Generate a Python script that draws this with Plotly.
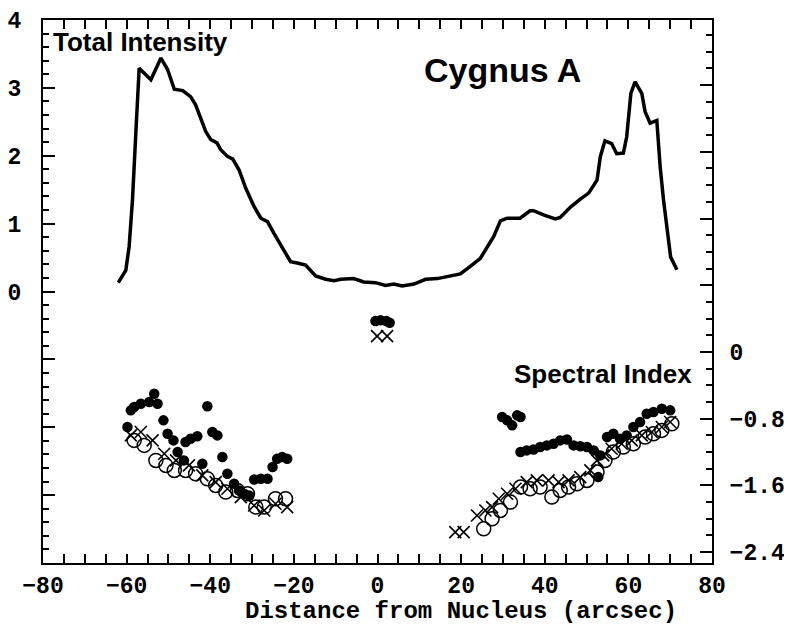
import plotly.graph_objects as go

# ---------------- data ----------------
inten_x = [-62.0, -60.2, -59.4, -58.6, -57.8, -57.0, -54.2, -51.8, -50.2, -48.6, -46.6, -44.7,
           -43.5, -42.3, -41.1, -39.9, -38.4, -37.5, -35.9, -34.6, -33.1, -31.5, -29.5, -27.9,
           -26.3, -24.8, -22.8, -20.8, -19.2, -17.2, -14.8, -12.4, -10.4, -8.8, -5.7, -3.3,
           -0.5, 1.9, 3.9, 5.9, 8.7, 11.5, 14.3, 17.0, 19.8, 22.2, 24.6, 27.8, 29.4, 31.0,
           34.1, 36.5, 37.3, 39.7, 42.5, 43.7, 46.1, 48.5, 50.5, 52.5, 53.3, 54.4, 56.0, 57.2,
           58.8, 59.6, 60.6, 61.6, 63.2, 64.0, 65.2, 66.8, 67.6, 68.4, 69.2, 70.1, 71.6]
inten_y = [0.13, 0.31, 0.66, 1.35, 2.33, 3.29, 3.12, 3.44, 3.27, 2.98, 2.96, 2.87,
           2.75, 2.55, 2.36, 2.24, 2.19, 2.09, 1.99, 1.95, 1.79, 1.52, 1.25, 1.08,
           1.03, 0.86, 0.64, 0.44, 0.42, 0.39, 0.23, 0.18, 0.16, 0.18, 0.19, 0.14,
           0.13, 0.09, 0.11, 0.08, 0.11, 0.18, 0.19, 0.23, 0.26, 0.37, 0.49, 0.81, 1.04, 1.08,
           1.08, 1.19, 1.19, 1.13, 1.07, 1.09, 1.24, 1.36, 1.45, 1.64, 1.99, 2.22, 2.18, 2.03,
           2.04, 2.28, 2.92, 3.09, 2.92, 2.65, 2.48, 2.52, 1.84, 1.35, 0.91, 0.51, 0.32]

filled_x = [-59.8, -59.0, -58.2, -56.6, -54.6, -53.4, -52.6, -51.2, -50.2, -48.8, -47.8, -46.3,
            -45.9, -44.7, -43.1, -41.9, -40.7, -39.5, -38.3, -37.1, -35.9, -34.3, -33.1, -31.9,
            -30.7, -29.5, -27.9, -26.3, -25.1, -24.0, -22.8, -21.6,
            -0.5, 0.7, 2.1, 2.9,
            29.8, 31.0, 32.2, 33.4, 34.2, 34.2, 35.7, 37.3, 38.9, 40.5, 42.1, 43.7, 45.3, 46.9,
            48.5, 50.1, 51.7, 52.8, 53.3, 54.9, 56.4, 58.0, 59.6, 61.2, 62.8, 64.4, 66.0, 68.0, 70.0]
filled_v = [-0.90, -0.70, -0.66, -0.62, -0.60, -0.50, -0.62, -0.82, -0.98, -1.06, -1.20, -1.30,
            -1.08, -1.04, -1.01, -1.34, -0.65, -0.96, -1.00, -1.26, -1.46, -1.58, -1.66, -1.70,
            -1.72, -1.53, -1.52, -1.52, -1.38, -1.28, -1.26, -1.28,
            0.37, 0.38, 0.37, 0.35,
            -0.78, -0.82, -0.88, -0.76, -0.78, -1.20, -1.18, -1.17, -1.14, -1.12, -1.10, -1.06, -1.05, -1.12,
            -1.13, -1.14, -1.18, -1.50, -1.24, -1.02, -0.98, -1.04, -1.00, -0.90, -0.84, -0.74, -0.72, -0.68, -0.70]

cross_x = [-59.0, -56.6, -53.8, -51.0, -48.2, -45.1, -41.9, -38.7, -35.9, -32.7, -29.5, -27.1,
           -24.4, -21.6,
           -0.1, 2.3,
           18.6, 20.6, 23.8, 25.8, 27.4, 29.0, 31.0, 33.0, 35.7, 38.1, 40.9, 43.3, 45.7, 48.5,
           50.9, 52.5, 54.0, 56.0, 58.4, 60.8, 63.2, 65.6, 68.0, 70.0]
cross_v = [-1.00, -0.96, -1.06, -1.22, -1.30, -1.36, -1.48, -1.56, -1.64, -1.74, -1.84, -1.90,
           -1.82, -1.86,
           0.19, 0.19,
           -2.16, -2.16, -1.96, -1.90, -1.86, -1.76, -1.70, -1.64, -1.56, -1.54, -1.54, -1.56, -1.54, -1.50,
           -1.42, -1.30, -1.24, -1.16, -1.10, -1.06, -1.00, -0.96, -0.90, -0.84]

open_x = [-58.2, -55.8, -53.0, -50.6, -48.6, -45.9, -43.5, -40.7, -38.7, -36.3, -33.5, -31.1,
          -29.1, -27.1, -24.4, -22.0,
          25.4, 27.4, 29.4, 31.8, 34.2, 36.5, 38.9, 41.7, 43.7, 45.7, 47.7, 50.1, 52.5, 54.4,
          56.4, 58.8, 61.2, 64.0, 66.0, 68.0, 70.4]
open_v = [-1.06, -1.12, -1.30, -1.36, -1.42, -1.42, -1.46, -1.52, -1.60, -1.68, -1.66, -1.70,
          -1.86, -1.86, -1.76, -1.76,
          -2.12, -2.00, -1.90, -1.80, -1.62, -1.64, -1.62, -1.74, -1.66, -1.62, -1.58, -1.54, -1.44, -1.30,
          -1.20, -1.14, -1.10, -1.02, -0.98, -0.94, -0.86]

x_ticks = [-80, -60, -40, -20, 0, 20, 40, 60, 80]
left_tickvals = [-4, -3, -2, -1, 0, 1, 2, 3, 4]
left_ticktext = ["", "", "", "", "0", "1", "2", "3", "4"]
right_tickvals = [-2.4, -1.6, -0.8, 0, 0.8, 1.6, 2.4, 3.2]
right_ticktext = ["\u22122.4", "\u22121.6", "\u22120.8", "0", "", "", "", ""]

# ---------------- layout geometry ----------------
# the page places the figure 8 px from the top-left corner (default body margin)
OFF = 8
W, H = 792 - OFF, 627 - OFF
L, T = 43 - OFF, 20 - OFF
R = W - (712 - OFF)
B = H - (563 - OFF)
pw, ph = W - L - R, H - T - B


def px(x):
    return (x - OFF - L) / pw


def py(y):
    return (H - B - (y - OFF)) / ph


mono = dict(family="Liberation Mono, Courier New, monospace", size=23, color="black", weight="bold")
sans = "Liberation Sans, Arial, Helvetica, sans-serif"

fig = go.Figure()
fig.add_trace(go.Scatter(x=inten_x, y=inten_y, mode="lines",
                         line=dict(color="black", width=3.5), yaxis="y", showlegend=False))
fig.add_trace(go.Scatter(x=open_x, y=open_v, mode="markers", yaxis="y2", showlegend=False,
                         marker=dict(symbol="circle-open", size=14, color="black",
                                     line=dict(width=1.5, color="black"))))
fig.add_trace(go.Scatter(x=cross_x, y=cross_v, mode="markers", yaxis="y2", showlegend=False,
                         marker=dict(symbol="x-thin-open", size=12, color="black",
                                     line=dict(width=1.6, color="black"))))
fig.add_trace(go.Scatter(x=filled_x, y=filled_v, mode="markers", yaxis="y2", showlegend=False,
                         marker=dict(symbol="circle", size=10.5, color="black", line=dict(width=0))))

fig.update_layout(
    width=W, height=H,
    margin=dict(l=L, r=R, t=T, b=B, pad=0, autoexpand=False),
    paper_bgcolor="white", plot_bgcolor="white",
    xaxis=dict(range=[-80, 80], tickvals=x_ticks, ticks="inside", ticklen=9, tickwidth=2,
               tickcolor="black", showline=True, linecolor="black", linewidth=2,
               mirror="allticks", showgrid=False, zeroline=False, tickfont=mono,
               ticklabelstandoff=0, automargin=False,
               minor=dict(tickmode="linear", tick0=0, dtick=5, ticks="inside", ticklen=5,
                          tickwidth=2, tickcolor="black", showgrid=False)),
    yaxis=dict(range=[-4, 4], tickmode="array", tickvals=left_tickvals, ticktext=left_ticktext,
               ticks="inside", ticklen=12, tickwidth=2, tickcolor="black",
               showline=True, linecolor="black", linewidth=2, showgrid=False, zeroline=False,
               tickfont=mono, ticklabelstandoff=15, automargin=False,
               minor=dict(tickmode="linear", tick0=0, dtick=0.2, ticks="inside", ticklen=6,
                          tickwidth=2, tickcolor="black", showgrid=False)),
    yaxis2=dict(range=[-2.53, 3.98], overlaying="y", side="right", anchor="x",
                tickmode="array", tickvals=right_tickvals, ticktext=right_ticktext,
                ticks="inside", ticklen=12, tickwidth=2, tickcolor="black",
                showline=True, linecolor="black", linewidth=2, showgrid=False, zeroline=False,
                tickfont=mono, ticklabelstandoff=11, automargin=False,
                minor=dict(tickmode="linear", tick0=0, dtick=0.2, ticks="inside", ticklen=6,
                           tickwidth=2, tickcolor="black", showgrid=False)),
)

fig.add_annotation(text="Distance from Nucleus (arcsec)", xref="paper", yref="paper",
                   x=px(461), y=py(611), xanchor="center", yanchor="middle", showarrow=False,
                   font=dict(family=mono["family"], size=24, color="black", weight="bold"))
fig.add_annotation(text="Total Intensity", xref="paper", yref="paper",
                   x=px(140), y=py(42), xanchor="center", yanchor="middle", showarrow=False,
                   font=dict(family=sans, size=26, color="black", weight="bold"))
fig.add_annotation(text="Cygnus A", xref="paper", yref="paper",
                   x=px(502), y=py(70), xanchor="center", yanchor="middle", showarrow=False,
                   font=dict(family=sans, size=34, color="black", weight="bold"))
fig.add_annotation(text="Spectral Index", xref="paper", yref="paper",
                   x=px(603), y=py(374), xanchor="center", yanchor="middle", showarrow=False,
                   font=dict(family=sans, size=26, color="black", weight="bold"))

fig.write_html("out.html")
